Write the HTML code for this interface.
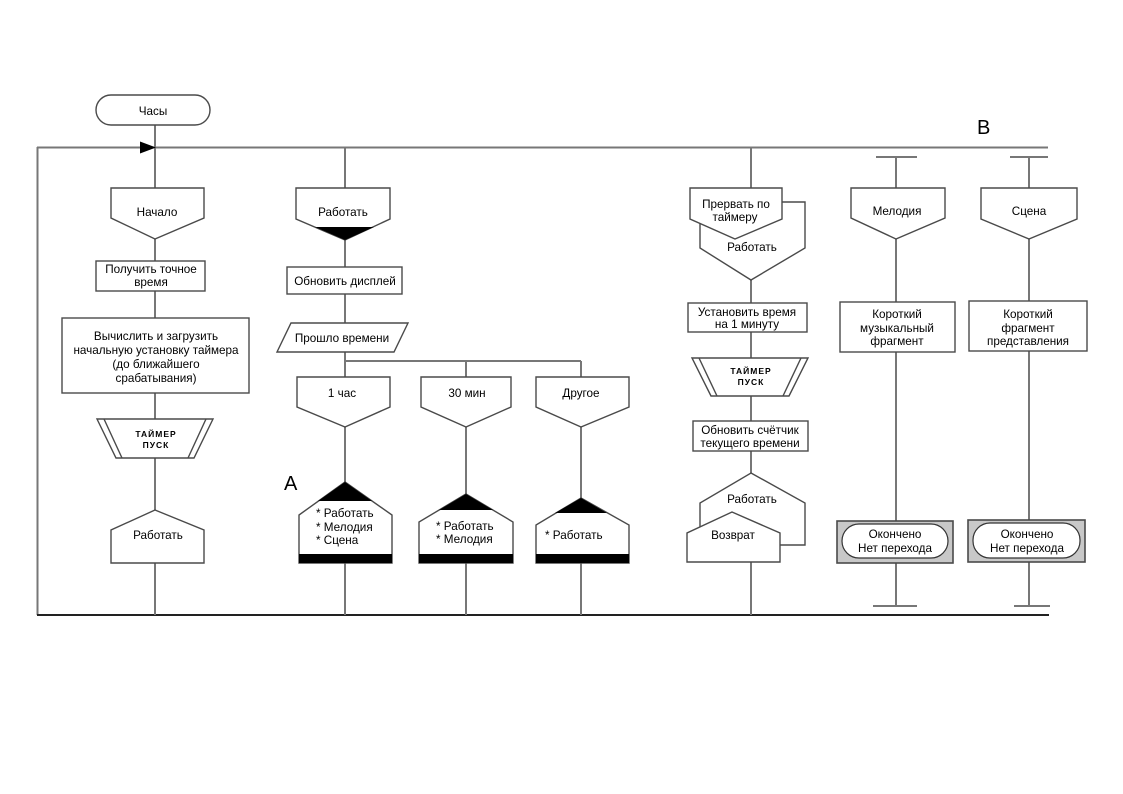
<!DOCTYPE html>
<html>
<head>
<meta charset="utf-8">
<style>
html,body{margin:0;padding:0;background:#fff;}
svg{display:block;}
text{font-family:"Liberation Sans","DejaVu Sans",sans-serif;font-size:11.7px;fill:#000;}
.c{text-anchor:middle;}
.ln{stroke:#777;stroke-width:2;fill:none;}
.sh{stroke:#4a4a4a;stroke-width:1.4;fill:#fff;}
.tm{font-size:8.5px;font-weight:bold;text-anchor:middle;letter-spacing:1px;}
</style>
</head>
<body>
<svg width="1123" height="794" viewBox="0 0 1123 794" xmlns="http://www.w3.org/2000/svg">
<rect width="1123" height="794" fill="#fff"/>

<!-- main loop lines -->
<line class="ln" x1="37" y1="147.5" x2="1048" y2="147.5"/>
<line class="ln" x1="37.5" y1="147" x2="37.5" y2="615"/>
<line x1="37" y1="615" x2="1049" y2="615" stroke="#222" stroke-width="2"/>

<!-- column verticals -->
<line class="ln" x1="155" y1="125" x2="155" y2="615"/>
<line class="ln" x1="345" y1="148" x2="345" y2="615"/>
<line class="ln" x1="345" y1="361" x2="581" y2="361"/>
<line class="ln" x1="466" y1="361" x2="466" y2="615"/>
<line class="ln" x1="581" y1="361" x2="581" y2="615"/>
<line class="ln" x1="751" y1="148" x2="751" y2="615"/>
<line class="ln" x1="896" y1="157" x2="896" y2="606"/>
<line class="ln" x1="876" y1="157" x2="917" y2="157"/>
<line class="ln" x1="873" y1="606" x2="917" y2="606"/>
<line class="ln" x1="1029" y1="157" x2="1029" y2="606"/>
<line class="ln" x1="1010" y1="157" x2="1048" y2="157"/>
<line class="ln" x1="1014" y1="606" x2="1050" y2="606"/>

<!-- arrow -->
<polygon points="140,141.5 156,147.5 140,153.5" fill="#000"/>

<!-- Column 1 -->
<rect class="sh" x="96" y="95" width="114" height="30" rx="15" ry="15"/>
<text class="c" x="153" y="115">Часы</text>

<polygon class="sh" points="111,188 204,188 204,218 155,239 111,218"/>
<text class="c" x="157" y="216">Начало</text>

<rect class="sh" x="96" y="261" width="109" height="30"/>
<text class="c" x="151" y="273">Получить точное</text>
<text class="c" x="151" y="286">время</text>

<rect class="sh" x="62" y="318" width="187" height="75"/>
<text class="c" x="156" y="340">Вычислить и загрузить</text>
<text class="c" x="156" y="354">начальную установку таймера</text>
<text class="c" x="156" y="368">(до ближайшего</text>
<text class="c" x="156" y="382">срабатывания)</text>

<!-- timer 1 -->
<polygon class="sh" points="97,419 213,419 194,458 116,458"/>
<line x1="104" y1="419" x2="122" y2="458" stroke="#4a4a4a" stroke-width="1.4"/>
<line x1="206" y1="419" x2="188" y2="458" stroke="#4a4a4a" stroke-width="1.4"/>
<text class="tm" x="156" y="437">ТАЙМЕР</text>
<text class="tm" x="156" y="448">ПУСК</text>

<polygon class="sh" points="155,510 204,530 204,563 111,563 111,530"/>
<text class="c" x="158" y="539">Работать</text>

<!-- Column 2 -->
<polygon class="sh" points="296,188 390,188 390,219 345,240 296,219"/>
<polygon points="315,227 374,227 345,240" fill="#000"/>
<text class="c" x="343" y="216">Работать</text>

<rect class="sh" x="287" y="267" width="115" height="27"/>
<text class="c" x="345" y="285">Обновить дисплей</text>

<polygon class="sh" points="291,323 408,323 394,352 277,352"/>
<text class="c" x="342" y="342">Прошло времени</text>

<polygon class="sh" points="297,377 390,377 390,407 345,427 297,407"/>
<text class="c" x="342" y="397">1 час</text>
<polygon class="sh" points="421,377 511,377 511,407 466,427 421,407"/>
<text class="c" x="467" y="397">30 мин</text>
<polygon class="sh" points="536,377 629,377 629,407 581,427 536,407"/>
<text class="c" x="581" y="397">Другое</text>

<!-- bottom branch shapes -->
<polygon class="sh" points="345,482 392,515 392,563 299,563 299,515"/>
<polygon points="345,482 372,501 318,501" fill="#000"/>
<rect x="299" y="554" width="93" height="9" fill="#000"/>
<text x="316" y="517">* Работать</text>
<text x="316" y="531">* Мелодия</text>
<text x="316" y="544">* Сцена</text>

<polygon class="sh" points="466,494 513,522 513,563 419,563 419,522"/>
<polygon points="466,494 493,510 439,510" fill="#000"/>
<rect x="419" y="554" width="94" height="9" fill="#000"/>
<text x="436" y="530">* Работать</text>
<text x="436" y="543">* Мелодия</text>

<polygon class="sh" points="581,498 629,525 629,563 536,563 536,525"/>
<polygon points="581,498 607,513 555,513" fill="#000"/>
<rect x="536" y="554" width="93" height="9" fill="#000"/>
<text x="545" y="539">* Работать</text>

<text x="284" y="490" style="font-size:20px">A</text>

<!-- Column 4 -->
<polygon class="sh" points="700,202 805,202 805,248 751,280 700,248"/>
<text class="c" x="752" y="251">Работать</text>
<polygon class="sh" points="690,188 782,188 782,219 735,239 690,219"/>
<text class="c" x="736" y="208">Прервать по</text>
<text class="c" x="735" y="221">таймеру</text>

<rect class="sh" x="688" y="303" width="119" height="29"/>
<text class="c" x="747" y="316">Установить время</text>
<text class="c" x="747" y="328">на 1 минуту</text>

<polygon class="sh" points="692,358 808,358 789,396 711,396"/>
<line x1="699" y1="358" x2="717" y2="396" stroke="#4a4a4a" stroke-width="1.4"/>
<line x1="801" y1="358" x2="783" y2="396" stroke="#4a4a4a" stroke-width="1.4"/>
<text class="tm" x="751" y="374">ТАЙМЕР</text>
<text class="tm" x="751" y="385">ПУСК</text>

<rect class="sh" x="693" y="421" width="115" height="30"/>
<text class="c" x="750" y="434">Обновить счётчик</text>
<text class="c" x="750" y="447">текущего времени</text>

<polygon class="sh" points="751,473 805,503 805,545 700,545 700,503"/>
<text class="c" x="752" y="503">Работать</text>
<polygon class="sh" points="732,512 780,533 780,562 687,562 687,533"/>
<text class="c" x="733" y="539">Возврат</text>

<!-- Column 5 -->
<polygon class="sh" points="851,188 945,188 945,218 896,239 851,218"/>
<text class="c" x="897" y="215">Мелодия</text>
<rect class="sh" x="840" y="302" width="115" height="50"/>
<text class="c" x="897" y="318">Короткий</text>
<text class="c" x="897" y="332">музыкальный</text>
<text class="c" x="897" y="345">фрагмент</text>

<rect x="837" y="521" width="116" height="42" fill="#c8c8c8" stroke="#4a4a4a" stroke-width="1.6"/>
<rect x="842" y="524" width="106" height="34" rx="17" ry="17" fill="#fff" stroke="#333" stroke-width="1.2"/>
<text class="c" x="895" y="538">Окончено</text>
<text class="c" x="895" y="552">Нет перехода</text>

<text x="977" y="134" style="font-size:20px">B</text>

<!-- Column 6 -->
<polygon class="sh" points="981,188 1077,188 1077,219 1029,239 981,219"/>
<text class="c" x="1029" y="215">Сцена</text>
<rect class="sh" x="969" y="301" width="118" height="50"/>
<text class="c" x="1028" y="318">Короткий</text>
<text class="c" x="1028" y="332">фрагмент</text>
<text class="c" x="1028" y="345">представления</text>

<rect x="968" y="520" width="117" height="42" fill="#c8c8c8" stroke="#4a4a4a" stroke-width="1.6"/>
<rect x="973" y="523" width="107" height="35" rx="17" ry="17" fill="#fff" stroke="#333" stroke-width="1.2"/>
<text class="c" x="1027" y="538">Окончено</text>
<text class="c" x="1027" y="552">Нет перехода</text>
</svg>
</body>
</html>
